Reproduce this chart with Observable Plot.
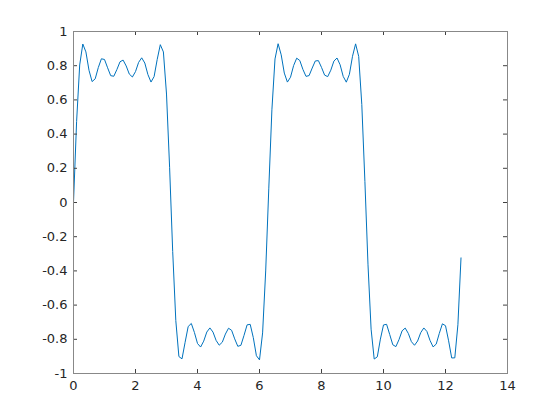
<!DOCTYPE html>
<html>
<head>
<meta charset="utf-8">
<script src="https://cdn.jsdelivr.net/npm/d3@7"></script>
<script src="https://cdn.jsdelivr.net/npm/@observablehq/plot@0.6"></script>
<style>
  html, body { margin: 0; padding: 0; background: #ffffff; }
  #chart { width: 560px; height: 420px; }
</style>
</head>
<body>
<div id="chart"></div>
<script>
// Sample positions (x) and curve values (y)
const xValues = [
  0.0, 0.1, 0.2, 0.3, 0.4, 0.5, 0.6, 0.7, 0.8, 0.9,
  1.0, 1.1, 1.2, 1.3, 1.4, 1.5, 1.6, 1.7, 1.8, 1.9,
  2.0, 2.1, 2.2, 2.3, 2.4, 2.5, 2.6, 2.7, 2.8, 2.9,
  3.0, 3.1, 3.2, 3.3, 3.4, 3.5, 3.6, 3.7, 3.8, 3.9,
  4.0, 4.1, 4.2, 4.3, 4.4, 4.5, 4.6, 4.7, 4.8, 4.9,
  5.0, 5.1, 5.2, 5.3, 5.4, 5.5, 5.6, 5.7, 5.8, 5.9,
  6.0, 6.1, 6.2, 6.3, 6.4, 6.5, 6.6, 6.7, 6.8, 6.9,
  7.0, 7.1, 7.2, 7.3, 7.4, 7.5, 7.6, 7.7, 7.8, 7.9,
  8.0, 8.1, 8.2, 8.3, 8.4, 8.5, 8.6, 8.7, 8.8, 8.9,
  9.0, 9.1, 9.2, 9.3, 9.4, 9.5, 9.6, 9.7, 9.8, 9.9,
  10.0, 10.1, 10.2, 10.3, 10.4, 10.5, 10.6, 10.7, 10.8, 10.9,
  11.0, 11.1, 11.2, 11.3, 11.4, 11.5, 11.6, 11.7, 11.8, 11.9,
  12.0, 12.1, 12.2, 12.3, 12.4, 12.5
];
const yValues = [
  0.0000, 0.4733, 0.8042, 0.9269, 0.8807, 0.7729, 0.7071, 0.7233, 0.7892, 0.8405,
  0.8364, 0.7879, 0.7417, 0.7383, 0.7777, 0.8229, 0.8328, 0.7985, 0.7510, 0.7340,
  0.7655, 0.8193, 0.8461, 0.8156, 0.7483, 0.7044, 0.7363, 0.8364, 0.9229, 0.8805,
  0.6343, 0.2060, -0.2866, -0.6904, -0.9009, -0.9143, -0.8176, -0.7250, -0.7074, -0.7598,
  -0.8246, -0.8453, -0.8108, -0.7575, -0.7334, -0.7579, -0.8065, -0.8345, -0.8169, -0.7694,
  -0.7353, -0.7473, -0.7975, -0.8411, -0.8352, -0.7774, -0.7155, -0.7125, -0.7903, -0.8960,
  -0.9204, -0.7626, -0.4004, 0.0839, 0.5420, 0.8396, 0.9285, 0.8635, 0.7568, 0.7042,
  0.7326, 0.8005, 0.8440, 0.8303, 0.7785, 0.7376, 0.7422, 0.7862, 0.8278, 0.8297,
  0.7902, 0.7450, 0.7361, 0.7737, 0.8270, 0.8451, 0.8056, 0.7374, 0.7037, 0.7498,
  0.8550, 0.9277, 0.8542, 0.5728, 0.1235, -0.3646, -0.7408, -0.9154, -0.9025, -0.7989,
  -0.7160, -0.7124, -0.7717, -0.8321, -0.8428, -0.8017, -0.7504, -0.7343, -0.7656, -0.8137,
  -0.8349, -0.8100, -0.7615, -0.7336, -0.7540, -0.8065, -0.8443, -0.8283, -0.7654, -0.7095,
  -0.7204, -0.8087, -0.9091, -0.9085, -0.7150, -0.3239
];

// Axis ticks and their labels
const xTicks = [0, 2, 4, 6, 8, 10, 12, 14];
const xTickLabels = ["0", "2", "4", "6", "8", "10", "12", "14"];
const yTicks = [-1, -0.8, -0.6, -0.4, -0.2, 0, 0.2, 0.4, 0.6, 0.8, 1];
const yTickLabels = ["-1", "-0.8", "-0.6", "-0.4", "-0.2", "0", "0.2", "0.4", "0.6", "0.8", "1"];

const data = xValues.map((x, i) => ({x, y: yValues[i]}));
const xFmt = d => xTickLabels[xTicks.findIndex(t => Math.abs(t - d) < 1e-9)];
const yFmt = d => yTickLabels[yTicks.findIndex(t => Math.abs(t - d) < 1e-9)];

const W = 560, H = 420;
const mL = 73, mR = 53, mT = 31, mB = 47;
const innerW = W - mL - mR, innerH = H - mT - mB;
const tickLen = 4;

const chart = Plot.plot({
  width: W,
  height: H,
  marginLeft: mL,
  marginRight: mR,
  marginTop: mT,
  marginBottom: mB,
  style: {fontFamily: "DejaVu Sans", fontSize: "13px", color: "#262626", background: "#ffffff", overflow: "visible"},
  x: {domain: [0, 14]},
  y: {domain: [-1, 1]},
  marks: [
    Plot.line(data, {x: "x", y: "y", stroke: "#0072BD", strokeWidth: 1}),
    Plot.tickX(xTicks, {x: d => d, insetTop: innerH - tickLen, stroke: "#404040", strokeWidth: 1}),
    Plot.tickX(xTicks, {x: d => d, insetBottom: innerH - tickLen, stroke: "#404040", strokeWidth: 1}),
    Plot.tickY(yTicks, {y: d => d, insetRight: innerW - tickLen, stroke: "#404040", strokeWidth: 1}),
    Plot.tickY(yTicks, {y: d => d, insetLeft: innerW - tickLen, stroke: "#404040", strokeWidth: 1}),
    Plot.frame({stroke: "#888888", strokeWidth: 1}),
    Plot.axisX(xTicks, {tickSize: 0, tickPadding: 7, label: null, fill: "#262626", fontSize: 13, tickFormat: xFmt}),
    Plot.axisY(yTicks, {tickSize: 0, tickPadding: 6, label: null, fill: "#262626", fontSize: 13, tickFormat: yFmt})
  ]
});
document.getElementById("chart").appendChild(chart);
</script>
</body>
</html>
